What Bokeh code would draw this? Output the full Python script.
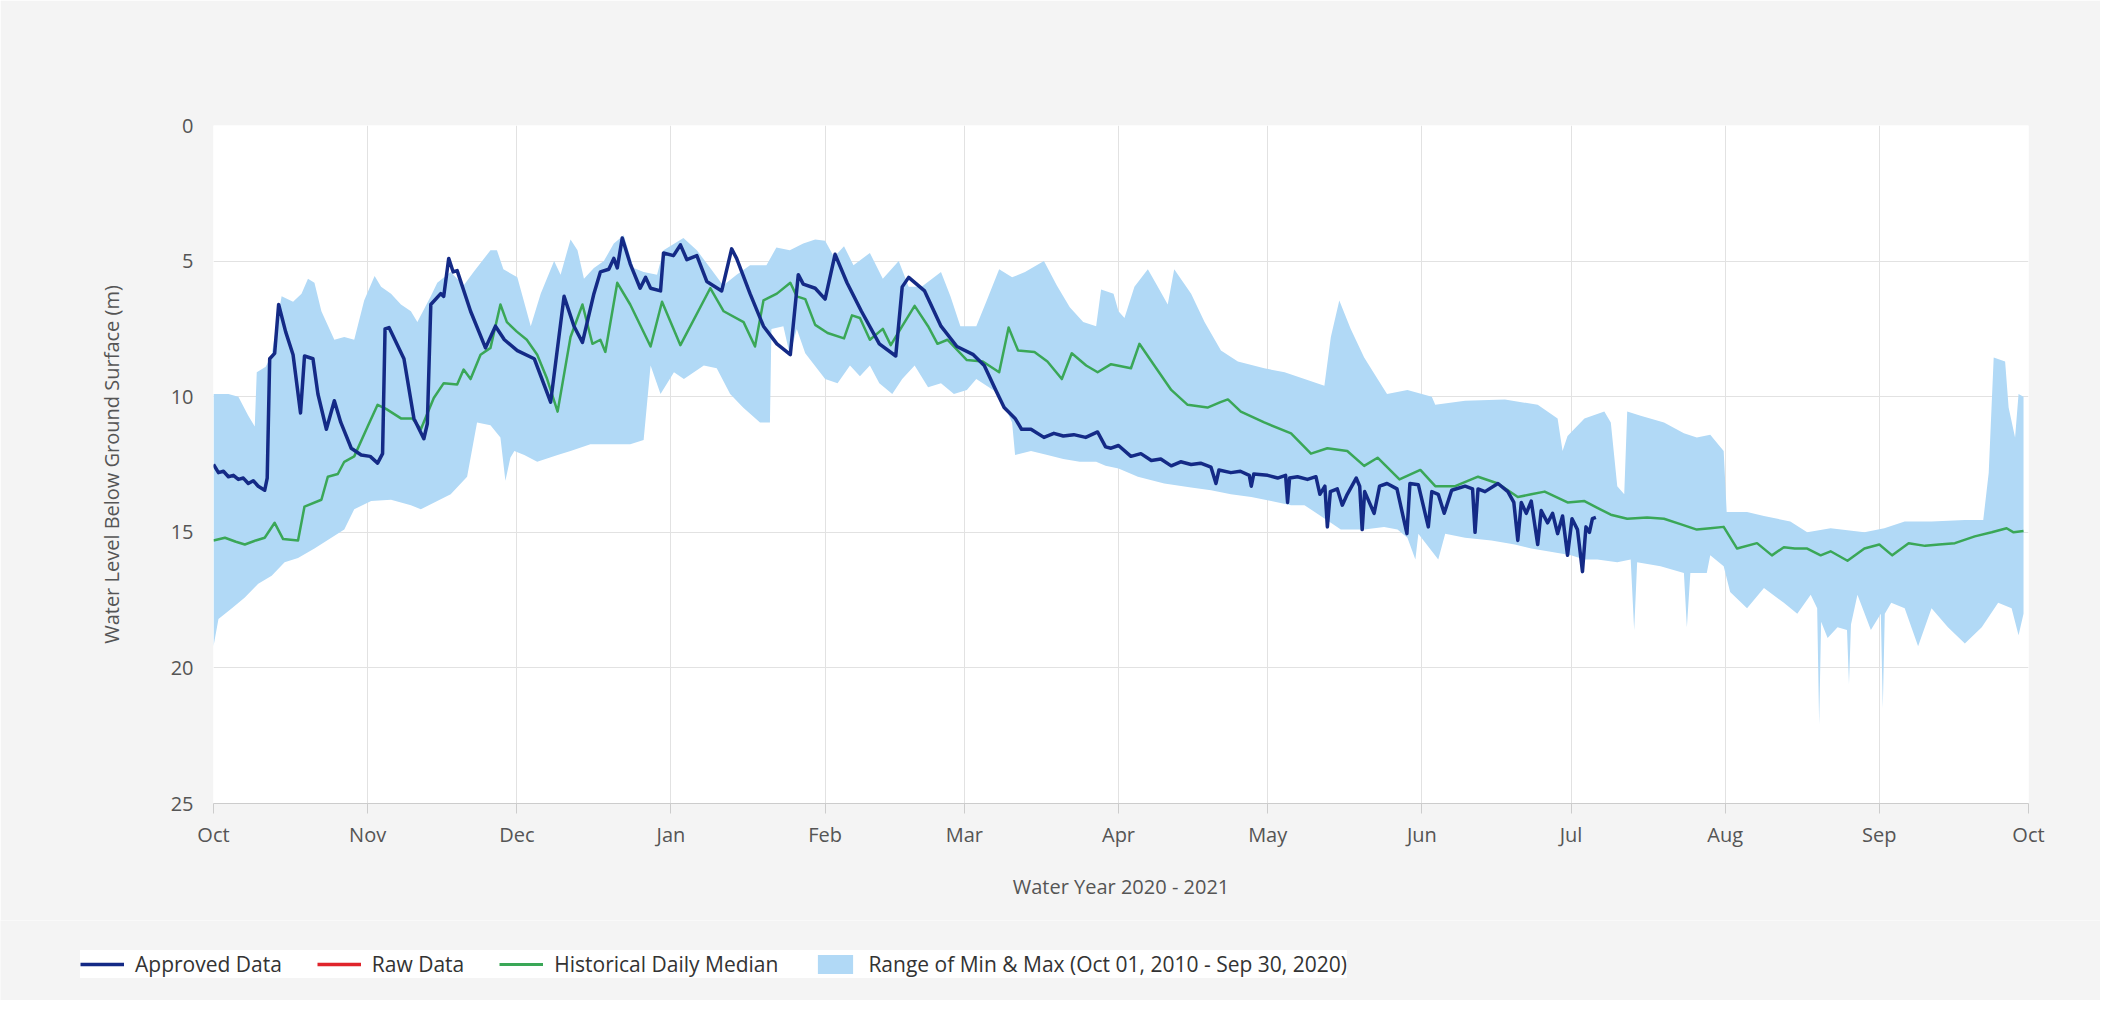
import numpy as np
from bokeh.plotting import figure
from bokeh.layouts import column
from bokeh.models import Range1d, FixedTicker, Legend, LegendItem
from bokeh.embed import file_html
from bokeh.resources import INLINE

# x values are days since 2020-10-01 (start of water year 2020-2021)
month_days = [0, 31, 61, 92, 123, 151, 182, 212, 243, 273, 304, 335, 365]
month_labels = ["Oct", "Nov", "Dec", "Jan", "Feb", "Mar", "Apr", "May", "Jun", "Jul", "Aug", "Sep", "Oct"]
y_ticks = [0, 5, 10, 15, 20, 25]

approved_days = [0, 1, 2, 3, 4, 5, 6, 7, 8, 9, 10.3, 10.8, 11.3, 12.3, 13.1, 14.5, 16.0, 17.5, 18.3, 20.0,
                 21.0, 22.7, 24.3, 25.6, 27.7, 29.7, 31.5, 33.0, 34.0, 34.5, 35.3, 38.3, 40.3, 42.3, 43.0, 43.7,
                 45.7, 46.3, 47.3, 48.2, 49.0, 51.7, 54.7, 56.7, 58.5, 61.1, 64.5, 67.8, 70.5, 72.5, 74.2, 76.5,
                 77.8, 79.5, 80.5, 81.2, 82.2, 83.8, 85.8, 86.9, 87.9, 89.9, 90.5, 92.5, 93.9, 95.2, 97.2, 99.2,
                 102.2, 104.2, 105.2, 107.9, 110.6, 113.3, 116.0, 117.6, 118.6, 121.0, 123.0, 125.0, 127.4,
                 130.3, 133.9, 137.2, 138.5, 139.8, 143.0, 146.3, 149.5, 152.8, 155.0, 157.3, 159.0, 161.2,
                 162.5, 164.4, 167.0, 169.0, 170.9, 173.0, 175.4, 177.8, 179.4, 180.5, 182.0, 184.5, 186.5,
                 188.6, 190.5, 192.6, 194.5, 196.6, 198.5, 200.6, 201.6, 202.2, 204.6, 206.5, 208.3, 208.7,
                 209.2, 212.0, 214.0, 215.6, 216.0, 216.4, 218.0, 220.0, 221.7, 222.5, 223.5, 224.0, 224.6,
                 226.0, 227.0, 228.0, 229.8, 230.5, 231.0, 231.5, 233.4, 234.5, 236.0, 238.0, 240.0, 240.6,
                 242.3, 244.3, 245.0, 246.3, 247.5, 249.0, 251.7, 253.2, 253.7, 254.3, 255.7, 258.3, 260.3,
                 261.5, 262.3, 263.0, 264.0, 265.0, 266.3, 267.0, 268.3, 269.3, 270.3, 271.3, 272.3, 273.2,
                 274.3, 275.3, 276.0, 276.7, 277.3, 278.0]
approved_vals = [12.5, 12.8, 12.75, 12.95, 12.9, 13.05, 13.0, 13.2, 13.1, 13.3, 13.45, 13.0, 8.6, 8.4, 6.6,
                 7.6, 8.45, 10.6, 8.5, 8.6, 9.9, 11.2, 10.15, 10.95, 11.9, 12.15, 12.2, 12.45, 12.1, 7.5, 7.45,
                 8.6, 10.8, 11.55, 11.0, 6.6, 6.2, 6.3, 4.9, 5.4, 5.35, 6.85, 8.2, 7.4, 7.9, 8.3, 8.6, 10.2,
                 6.3, 7.4, 8.0, 6.2, 5.4, 5.3, 4.9, 5.25, 4.15, 5.1, 6.0, 5.6, 6.0, 6.1, 4.7, 4.8, 4.4, 4.95,
                 4.8, 5.75, 6.1, 4.55, 4.9, 6.2, 7.4, 8.05, 8.45, 5.5, 5.85, 6.0, 6.4, 4.75, 5.8, 6.85, 8.05,
                 8.5, 5.95, 5.6, 6.1, 7.4, 8.15, 8.45, 8.85, 9.75, 10.4, 10.8, 11.2, 11.2, 11.5, 11.35, 11.45,
                 11.4, 11.5, 11.3, 11.85, 11.9, 11.8, 12.2, 12.1, 12.35, 12.3, 12.55, 12.4, 12.5, 12.45, 12.6,
                 13.2, 12.7, 12.8, 12.75, 12.9, 13.3, 12.85, 12.9, 13.0, 12.9, 13.9, 13.0, 12.95, 13.05, 12.95,
                 13.6, 13.3, 14.8, 13.5, 13.4, 14.0, 13.6, 13.0, 13.3, 14.9, 13.5, 14.3, 13.3, 13.2, 13.4,
                 15.05, 13.2, 13.25, 14.8, 13.5, 13.6, 14.3, 13.45, 13.3, 13.4, 15.0, 13.4, 13.5, 13.2, 13.5,
                 13.9, 15.3, 13.9, 14.3, 13.85, 15.45, 14.2, 14.65, 14.3, 15.05, 14.4, 15.85, 14.5, 14.9, 16.45,
                 14.8, 15.0, 14.5, 14.45]

raw_days = []
raw_vals = []

median_days = [0, 2.3, 4.5, 6.3, 8.5, 10.3, 12.3, 14.0, 17.0, 18.3, 21.7, 23.0, 25.0, 26.3, 28.3, 31.0, 33.0,
               34.7, 37.7, 40.0, 41.7, 44.3, 46.3, 49.0, 50.3, 51.7, 53.7, 55.7, 57.7, 59.0, 61.0, 63.0, 65.1,
               67.0, 69.2, 71.8, 74.2, 76.2, 77.8, 78.8, 81.2, 83.8, 87.9, 90.2, 93.9, 99.9, 102.6, 106.6,
               108.9, 110.6, 113.3, 116.0, 117.3, 119.0, 121.0, 123.5, 126.8, 128.4, 130.0, 132.0, 134.6,
               136.2, 138.5, 141.0, 143.7, 145.6, 147.6, 151.5, 154.7, 158.0, 159.9, 161.8, 165.1, 167.7,
               170.6, 172.6, 175.5, 177.8, 180.5, 184.5, 186.2, 189.2, 192.6, 195.9, 199.9, 202.5, 204.0,
               206.6, 211.3, 216.7, 220.7, 224.0, 228.0, 231.4, 234.1, 238.5, 242.7, 245.7, 249.7, 254.3,
               258.3, 262.3, 265.0, 267.7, 272.3, 275.7, 278.3, 281.0, 284.3, 288.3, 291.7, 295.0, 298.3,
               301.0, 303.7, 306.4, 310.4, 313.4, 315.8, 318.0, 320.5, 323.2, 325.2, 328.6, 332.0, 335.0,
               337.6, 340.9, 344.2, 347.0, 350.2, 354.2, 357.6, 360.6, 362.0, 364.0]
median_vals = [15.3, 15.2, 15.35, 15.45, 15.3, 15.2, 14.65, 15.25, 15.3, 14.05, 13.8, 12.95, 12.85, 12.4,
               12.2, 11.1, 10.3, 10.45, 10.8, 10.8, 11.2, 10.05, 9.5, 9.55, 9.0, 9.35, 8.45, 8.2, 6.6, 7.25,
               7.6, 7.9, 8.45, 9.3, 10.55, 7.8, 6.6, 8.05, 7.9, 8.35, 5.8, 6.6, 8.15, 6.5, 8.1, 6.0, 6.85,
               7.25, 8.15, 6.45, 6.2, 5.8, 6.3, 6.4, 7.35, 7.65, 7.85, 7.0, 7.1, 7.9, 7.5, 8.1, 7.4, 6.65,
               7.4, 8.05, 7.9, 8.65, 8.7, 9.1, 7.45, 8.3, 8.35, 8.7, 9.35, 8.4, 8.85, 9.1, 8.8, 8.95, 8.05,
               8.85, 9.75, 10.3, 10.4, 10.2, 10.1, 10.55, 10.95, 11.35, 12.1, 11.9, 12.0, 12.55, 12.25,
               13.05, 12.7, 13.3, 13.3, 12.95, 13.2, 13.7, 13.6, 13.5, 13.9, 13.85, 14.1, 14.35, 14.5,
               14.45, 14.5, 14.7, 14.9, 14.85, 14.8, 15.6, 15.4, 15.85, 15.55, 15.6, 15.6, 15.85, 15.7,
               16.05, 15.6, 15.45, 15.85, 15.4, 15.5, 15.45, 15.4, 15.15, 15.0, 14.85, 15.0, 14.95]

# Range of historical minimum (shallowest) and maximum (deepest) levels
range_min_days = [0, 3.0, 5.0, 7.0, 8.3, 8.7, 10.5, 11.7, 13.0, 13.7, 16.0, 17.7, 19.0, 20.3, 21.7, 24.3,
                  26.3, 28.3, 30.3, 32.4, 33.7, 35.7, 37.7, 39.7, 41.0, 43.7, 45.0, 47.7, 50.3, 52.3, 55.7,
                  57.0, 58.3, 61.1, 63.8, 65.8, 68.5, 69.8, 71.8, 73.2, 74.5, 76.5, 78.5, 80.5, 82.5, 84.5,
                  86.5, 89.2, 90.5, 93.2, 94.5, 97.2, 99.9, 102.5, 105.2, 107.9, 111.2, 113.2, 115.9, 118.6,
                  121.0, 123.0, 124.8, 126.8, 128.7, 132.0, 134.6, 137.8, 139.8, 142.4, 146.3, 148.2, 150.2,
                  153.4, 155.4, 158.0, 160.6, 163.2, 167.0, 169.6, 172.2, 174.9, 177.5, 178.5, 181.0, 182.0,
                  183.2, 185.2, 187.9, 189.9, 191.9, 193.2, 196.6, 199.3, 202.6, 206.0, 211.3, 215.4, 219.4,
                  223.4, 224.7, 226.4, 228.7, 231.4, 234.1, 236.0, 240.1, 245.0, 245.7, 251.7, 259.7, 266.3,
                  270.3, 271.3, 272.3, 275.7, 279.7, 281.0, 282.3, 283.7, 284.3, 287.0, 291.7, 295.7, 298.3,
                  301.0, 303.7, 304.3, 308.4, 311.8, 317.1, 320.5, 325.2, 332.0, 336.0, 340.1, 345.5, 352.2,
                  355.9, 357.0, 358.0, 360.3, 361.0, 362.3, 363.0, 364.0]
range_min_vals = [9.9, 9.9, 10.0, 10.7, 11.1, 9.1, 8.9, 8.45, 7.0, 6.3, 6.5, 6.2, 5.65, 5.8, 6.85, 7.9, 7.8,
                  7.9, 6.45, 5.55, 5.95, 6.2, 6.6, 6.85, 7.25, 6.3, 5.8, 5.4, 5.9, 5.4, 4.6, 4.6, 5.3, 5.6,
                  7.4, 6.2, 5.0, 5.5, 4.2, 4.6, 5.65, 5.25, 5.0, 4.35, 4.05, 5.25, 5.4, 5.5, 4.6, 4.3, 4.15,
                  4.6, 5.25, 5.9, 5.5, 5.15, 5.15, 4.5, 4.6, 4.35, 4.2, 4.25, 4.85, 4.45, 5.15, 4.7, 5.65, 5.0,
                  5.95, 5.95, 5.4, 6.3, 7.4, 7.4, 6.5, 5.3, 5.6, 5.4, 5.0, 5.9, 6.7, 7.25, 7.4, 6.05, 6.2,
                  6.85, 7.1, 5.95, 5.3, 5.95, 6.6, 5.3, 6.2, 7.25, 8.3, 8.7, 8.95, 9.1, 9.35, 9.6, 7.8, 6.45,
                  7.5, 8.55, 9.35, 9.9, 9.75, 10.0, 10.3, 10.15, 10.1, 10.3, 10.8, 12.0, 11.45, 10.8, 10.55,
                  10.95, 13.3, 13.6, 10.55, 10.7, 10.95, 11.35, 11.5, 11.4, 12.0, 14.25, 14.25, 14.4, 14.6,
                  15.0, 14.85, 15.0, 14.85, 14.6, 14.6, 14.55, 14.55, 12.8, 8.55, 8.7, 10.4, 11.5, 9.9, 10.0]
range_max_days = [0, 1.0, 3.7, 6.3, 9.0, 11.7, 14.3, 17.0, 20.3, 23.7, 26.3, 28.3, 31.7, 35.7, 39.7, 41.7,
                  45.0, 47.7, 51.0, 53.0, 55.7, 57.7, 58.7, 59.7, 60.5, 62.5, 65.1, 69.2, 71.8, 75.8, 79.8,
                  83.8, 86.5, 87.9, 89.9, 92.6, 94.6, 96.6, 98.6, 101.2, 103.9, 106.5, 109.9, 111.9, 112.2,
                  114.6, 115.9, 117.3, 119.0, 123.0, 125.5, 128.0, 130.0, 132.0, 133.9, 136.5, 138.5, 141.0,
                  143.7, 146.3, 148.9, 151.5, 153.4, 158.0, 160.6, 161.2, 164.4, 167.7, 170.9, 174.2, 177.5,
                  179.4, 182.0, 185.9, 191.2, 196.6, 200.6, 204.6, 208.7, 212.7, 216.7, 219.4, 224.7, 226.7,
                  231.4, 235.4, 238.1, 240.1, 241.7, 242.3, 246.3, 247.7, 251.7, 257.0, 261.7, 265.0, 268.3,
                  273.0, 275.7, 278.3, 282.3, 285.0, 285.7, 286.3, 291.0, 295.7, 296.3, 297.0, 300.3, 301.0,
                  303.7, 305.0, 308.4, 311.8, 315.8, 318.5, 321.2, 322.5, 322.9, 323.3, 324.6, 326.6, 328.5,
                  328.9, 329.3, 330.6, 333.3, 335.3, 335.7, 336.1, 337.4, 340.1, 342.8, 345.5, 348.8, 352.2,
                  355.6, 358.9, 361.6, 363.0, 364.0]
range_max_vals = [19.2, 18.2, 17.8, 17.4, 16.9, 16.6, 16.1, 15.95, 15.6, 15.2, 14.9, 14.15, 13.85, 13.8, 14.0,
                  14.15, 13.85, 13.6, 12.95, 10.95, 11.05, 11.5, 13.1, 12.25, 12.0, 12.15, 12.4, 12.15, 12.0,
                  11.75, 11.75, 11.75, 11.6, 8.85, 9.9, 9.1, 9.35, 9.1, 8.85, 8.95, 9.9, 10.4, 10.95, 10.95,
                  7.5, 7.4, 8.45, 7.5, 8.4, 9.35, 9.5, 8.85, 9.25, 8.85, 9.5, 9.9, 9.35, 8.85, 9.65, 9.5, 9.9,
                  9.75, 9.35, 9.9, 10.95, 12.15, 12.0, 12.15, 12.3, 12.4, 12.4, 12.55, 12.65, 12.95, 13.2,
                  13.35, 13.45, 13.6, 13.7, 13.85, 14.0, 14.0, 14.65, 14.9, 14.9, 14.8, 14.9, 15.2, 16.0,
                  15.05, 16.0, 15.05, 15.2, 15.3, 15.45, 15.6, 15.7, 15.85, 16.0, 16.0, 16.1, 16.0, 18.6,
                  16.1, 16.25, 16.5, 18.5, 16.5, 16.5, 15.85, 16.25, 17.2, 17.8, 17.05, 17.6, 18.0, 17.3,
                  17.8, 22.1, 18.3, 18.9, 18.5, 18.6, 20.6, 18.4, 17.3, 18.6, 18.0, 21.5, 18.0, 17.6, 17.8,
                  19.2, 17.8, 18.5, 19.1, 18.5, 17.6, 17.8, 18.8, 18.0]

FONT = "Open Sans"
FSIZE = "20px"
TEXT = "#555555"
GRID = "#e2e2e2"
PANEL = "#f4f4f4"
C_APPROVED = "#142a86"
C_RAW = "#e0242b"
C_MEDIAN = "#3aa757"
C_RANGE = "#b1d9f6"

p = figure(width=2100, height=920, output_backend="svg", toolbar_location=None,
           x_range=Range1d(0, 365), y_range=Range1d(25, 0),
           min_border_left=213, min_border_right=72, min_border_top=125, min_border_bottom=117,
           background_fill_color="white", border_fill_color=PANEL)
p.outline_line_color = None

band_x = list(range_min_days) + list(range_max_days[::-1])
band_y = list(range_min_vals) + list(range_max_vals[::-1])
p.patch(band_x, band_y, fill_color=C_RANGE, fill_alpha=1.0, line_color=None)
p.line(median_days, median_vals, line_color=C_MEDIAN, line_width=2.5, line_join="round")
p.line(raw_days, raw_vals, line_color=C_RAW, line_width=3.5)
p.line(approved_days, approved_vals, line_color=C_APPROVED, line_width=3.5, line_join="round")

# axes
p.xaxis.ticker = FixedTicker(ticks=month_days)
p.xaxis.major_label_overrides = {d: lab for d, lab in zip(month_days, month_labels)}
p.xaxis.minor_tick_line_color = None
p.xaxis.major_tick_out = 10
p.xaxis.major_tick_in = 0
p.xaxis.major_tick_line_color = "#cccccc"
p.xaxis.axis_line_color = "#cccccc"
p.xaxis.major_label_standoff = 7
p.xaxis.axis_label = "Water Year 2020 - 2021"
p.xaxis.axis_label_standoff = 22

p.yaxis.ticker = FixedTicker(ticks=y_ticks)
p.yaxis.axis_line_color = None
p.yaxis.major_tick_line_color = None
p.yaxis.minor_tick_line_color = None
p.yaxis.major_label_standoff = 14
p.yaxis.axis_label = "Water Level Below Ground Surface (m)"
p.yaxis.axis_label_standoff = 43

for ax in (p.xaxis, p.yaxis):
    ax.major_label_text_font = FONT
    ax.major_label_text_font_size = FSIZE
    ax.major_label_text_color = TEXT
    ax.axis_label_text_font = FONT
    ax.axis_label_text_font_size = FSIZE
    ax.axis_label_text_color = TEXT
    ax.axis_label_text_font_style = "normal"

p.xgrid.grid_line_color = GRID
p.ygrid.grid_line_color = GRID

# legend strip below the chart (same styles as the chart series)
pl = figure(width=2100, height=80, output_backend="svg", toolbar_location=None,
            x_range=Range1d(0, 1), y_range=Range1d(0, 1),
            x_axis_location=None, y_axis_location=None,
            min_border_left=0, min_border_right=0, min_border_top=0, min_border_bottom=0,
            background_fill_color=PANEL, border_fill_color=PANEL)
pl.outline_line_color = None
pl.grid.visible = False
for fig in (p, pl):
    try:
        fig.frame_align = False
    except Exception:
        pass

nan = np.array([np.nan])
l_app = pl.line(nan, nan, line_color=C_APPROVED, line_width=3.5)
l_raw = pl.line(nan, nan, line_color=C_RAW, line_width=3.5)
l_med = pl.line(nan, nan, line_color=C_MEDIAN, line_width=3)
l_rng = pl.patch(nan, nan, fill_color=C_RANGE, line_color=None)

legend = Legend(items=[LegendItem(label="Approved Data", renderers=[l_app]),
                       LegendItem(label="Raw Data", renderers=[l_raw]),
                       LegendItem(label="Historical Daily Median", renderers=[l_med]),
                       LegendItem(label="Range of Min & Max (Oct 01, 2010 - Sep 30, 2020)", renderers=[l_rng])],
                orientation="horizontal", location=(80, 22),
                background_fill_color="white", background_fill_alpha=1.0, border_line_color=None,
                label_text_font=FONT, label_text_font_size="21px", label_text_color="#333333",
                glyph_width=44, glyph_height=24, label_standoff=11, spacing=35, padding=10, margin=0)
pl.add_layout(legend)

layout = column(p, pl, spacing=0)
open("out.html", "w").write(file_html(layout, INLINE))
